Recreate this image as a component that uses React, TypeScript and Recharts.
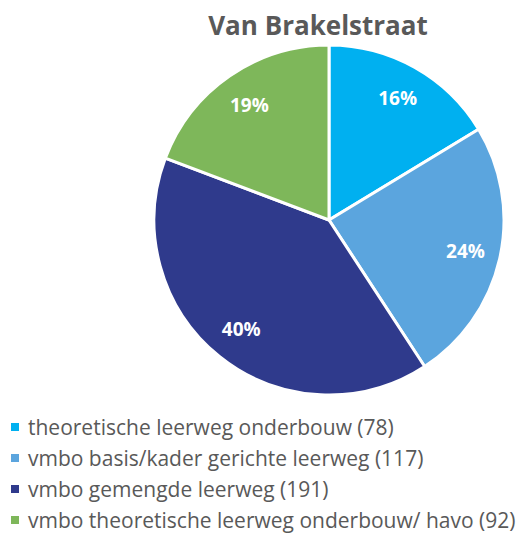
import { Cell, Pie, PieChart } from 'recharts';

const categories = [
  'theoretische leerweg onderbouw',
  'vmbo basis/kader gerichte leerweg',
  'vmbo gemengde leerweg',
  'vmbo theoretische leerweg onderbouw/ havo',
];
const counts = [78, 117, 191, 92];
const colors = ['#00B0F0', '#5BA5DE', '#2F3A8C', '#7EB75A'];

const data = categories.map((name, i) => ({ name, value: counts[i] }));
const total = counts.reduce((a, b) => a + b, 0);

const RAD = Math.PI / 180;

function renderLabel(props: any) {
  const { cx, cy, midAngle, outerRadius, value } = props;
  const r = outerRadius * 0.8;
  const x = cx + r * Math.cos(-midAngle * RAD);
  const y = cy + r * Math.sin(-midAngle * RAD);
  return (
    <text
      x={x}
      y={y}
      fill="#ffffff"
      textAnchor="middle"
      dominantBaseline="central"
      fontSize={19}
      fontWeight="bold"
      fontFamily="'Open Sans', sans-serif"
    >
      {`${Math.round((value / total) * 100)}%`}
    </text>
  );
}

export default function App() {
  return (
    <div style={{ position: 'absolute', left: 0, top: 0, width: 524, height: 537, background: '#fff' }}>
      <div
        style={{
          position: 'absolute',
          left: 0,
          width: 636,
          top: 7,
          textAlign: 'center',
          fontFamily: "'Open Sans', sans-serif",
          fontWeight: 'bold',
          fontSize: 26,
          color: '#595959',
        }}
      >
        Van Brakelstraat
      </div>
      <PieChart width={524} height={400} margin={{ top: 0, right: 0, bottom: 0, left: 0 }}>
        <Pie
          data={data}
          dataKey="value"
          nameKey="name"
          cx={329}
          cy={220}
          outerRadius={175}
          startAngle={90}
          endAngle={-270}
          stroke="#ffffff"
          strokeWidth={3}
          label={renderLabel}
          labelLine={false}
          isAnimationActive={false}
        >
          {data.map((d, i) => (
            <Cell key={d.name} fill={colors[i]} />
          ))}
        </Pie>
      </PieChart>
      <div
        style={{
          position: 'absolute',
          left: 11,
          top: 411,
          fontFamily: "'Open Sans', sans-serif",
          fontSize: 21,
          color: '#595959',
          whiteSpace: 'nowrap',
        }}
      >
        {data.map((d, i) => (
          <div key={d.name} style={{ display: 'flex', alignItems: 'center', height: 31 }}>
            <span
              style={{ display: 'inline-block', width: 8, height: 8, background: colors[i], marginRight: 9 }}
            />
            <span>{`${d.name} (${d.value})`}</span>
          </div>
        ))}
      </div>
    </div>
  );
}
